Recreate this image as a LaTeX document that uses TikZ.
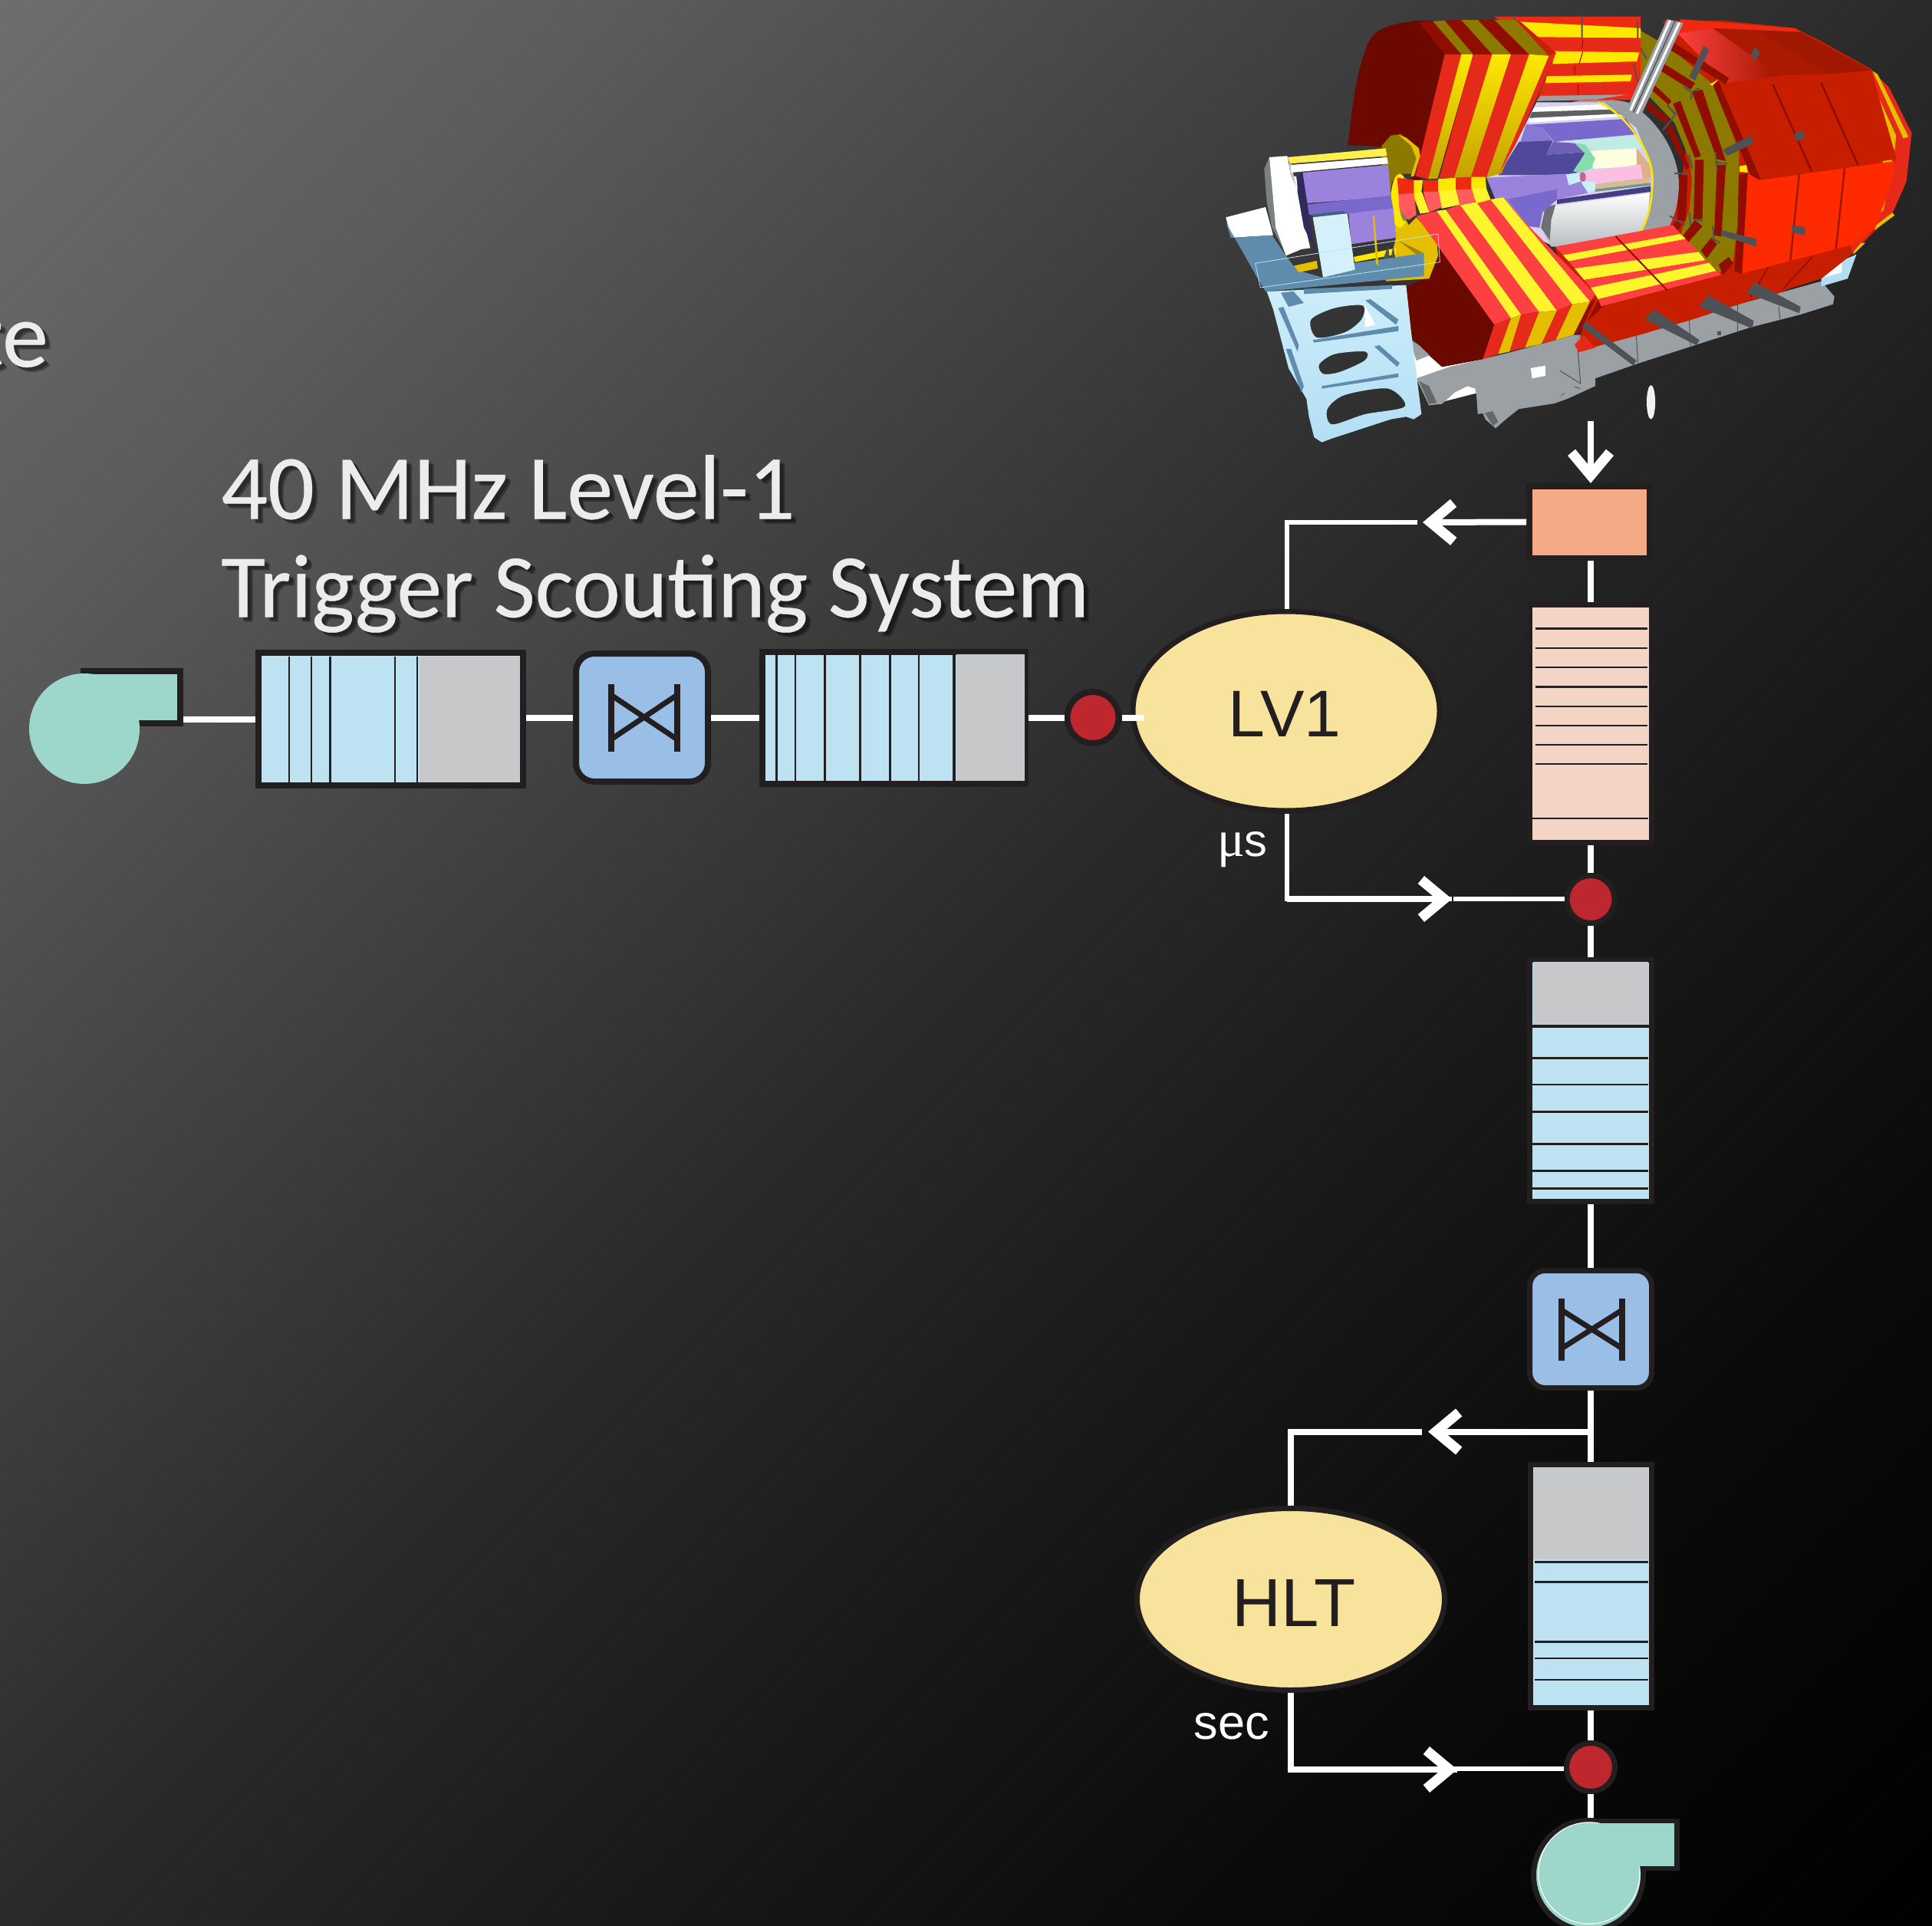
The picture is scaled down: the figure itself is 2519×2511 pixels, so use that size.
\documentclass[tikz,border=0pt]{standalone}
\usepackage{fontspec}
\setmainfont{Liberation Sans}
\newfontfamily\titlefont[FakeBold=0.35]{Carlito}
\newfontfamily\muserif{Liberation Serif}
\usetikzlibrary{shapes.geometric,arrows.meta,fadings}
\def\px{0.02cm}
\definecolor{edge}{HTML}{231F20}
\definecolor{qblue}{HTML}{BDE3F3}
\definecolor{qgray}{HTML}{C7C8CA}
\definecolor{swblue}{HTML}{9ABFE6}
\definecolor{dotred}{HTML}{BE272D}
\definecolor{procy}{HTML}{F7E39B}
\definecolor{teal0}{HTML}{9DD7CB}
\definecolor{orange0}{HTML}{F5AA87}
\definecolor{pink0}{HTML}{F4D4C5}
\definecolor{titlec}{HTML}{ECECEC}
% detector palette
\definecolor{dkred}{HTML}{6B0800}
\definecolor{midred}{HTML}{C81E00}
\definecolor{sidered}{HTML}{8F0E00}
\definecolor{frred}{HTML}{E52A1A}
\definecolor{brred}{HTML}{FF2A00}
\definecolor{ltred}{HTML}{FF4040}
\definecolor{frgold}{HTML}{E6BE00}
\definecolor{dkgold}{HTML}{8C7A00}
\definecolor{ltyel}{HTML}{FFF52E}
\definecolor{rowyel}{HTML}{FFE800}
\definecolor{rowred}{HTML}{F02A10}
\definecolor{steel}{HTML}{9AA0A4}
\definecolor{fin}{HTML}{4E5256}
\definecolor{towblue}{HTML}{B8E6F8}
\definecolor{platblue}{HTML}{5F8BAD}
\definecolor{purp}{HTML}{9B82DC}
\definecolor{purpm}{HTML}{7A69CC}
\definecolor{purpd}{HTML}{50489A}
\pgfdeclareverticalshading{bgshade}{100bp}{rgb(0bp)=(0,0,0); rgb(25bp)=(0,0,0); rgb(35bp)=(.045,.045,.045); rgb(42.5bp)=(.1,.1,.1); rgb(50bp)=(.165,.165,.165); rgb(57.5bp)=(.25,.25,.25); rgb(67bp)=(.36,.36,.36); rgb(75bp)=(.43,.43,.43); rgb(100bp)=(.43,.43,.43)}
\newcommand\dpoly[2]{\fill[#1] plot coordinates {#2} -- cycle;}
\tikzset{
  lw/.style={line width=#1*\px},
  wire/.style={draw=white,lw=8},
  barb/.style={-{Straight Barb[length=.6cm,width=1cm,line width=.26cm]}},
  queue/.style={rectangle,draw=edge,inner sep=0pt,lw=8,fill=qblue},
  swbox/.style={rectangle,rounded corners=24*\px,draw=edge,inner sep=0pt,lw=8,fill=swblue},
  reddot/.style={circle,draw=edge,fill=dotred,inner sep=0pt,lw=8},
  proc/.style={ellipse,draw=edge,fill=procy,inner sep=0pt,lw=7},
  proctext/.style={text=edge,inner sep=0pt,font=\fontsize{49}{49}\selectfont},
  bar/.style={draw=edge,lw=2.5},
  tie/.style={draw=edge,lw=8},
  lab/.style={text=white,inner sep=0pt},
  ttla/.style={inner sep=0pt,anchor=base west,font=\titlefont\fontsize{68.3}{70}\selectfont},
  ttlb/.style={inner sep=0pt,anchor=base west,font=\titlefont\fontsize{67}{70}\selectfont},
  zA/.style={shift={(1580,150)},xscale=1/3,yscale=1/3},
  zB/.style={shift={(1900,20)},xscale=1/2.613,yscale=1/3},
  zC/.style={shift={(1550,0)},xscale=1/1.618,yscale=1/2.613},
}
\begin{tikzfadingfrompicture}[name=titlefade,x=0.02cm,y=-0.02cm]
\path (0,0) rectangle (1500,900);
\node[ttla,text=transparent!0] at (288,676.5) {40 MHz Level-1};
\node[ttlb,text=transparent!0] at (288,804.5) {Trigger Scouting System};
\node[ttla,text=transparent!0,anchor=base east] at (63,478) {te};
\end{tikzfadingfrompicture}
\begin{document}
\begin{tikzpicture}[x=0.02cm,y=-0.02cm]
\useasboundingbox (0,0) rectangle (2519,2511);
\clip (0,0) rectangle (2519,2511);
\node[inner sep=0pt,rotate=45,scale=40.3] (bg) at (1259.5,1255.5) {\pgfuseshading{bgshade}};

% ---- detector: base
\begin{scope}[zA]
\dpoly{white}{(780,880) (900,985) (1060,955) (1300,900) (1300,1020) (850,1135) (800,1030)}
\dpoly{steel}{(780,880) (865,935) (800,960) (790,930)}
\dpoly{steel}{(800,1030) (930,985) (1060,955) (1440,860) (1500,930) (1500,1060) (1390,1110) (1340,1128) (1200,1150) (1150,1190) (1110,1225) (1070,1190) (1040,1120) (1030,1070) (1000,1060) (950,1085) (900,1130) (850,1135)}
\dpoly{white}{(1240,985) (1290,980) (1285,1020) (1245,1030)}
\dpoly{white}{(1040,1085) (1085,1070) (1085,1090) (1045,1100)}
\dpoly{fin}{(1150,940) (1185,925) (1185,1060) (1150,1075)}
\dpoly{fin}{(1195,925) (1230,915) (1230,1030) (1195,1045)}
\draw[fin,lw=1] (1360,1000) -- (1440,1050) (1360,1000)--(1360,1040)--(1440,1070);
\dpoly{steel!65!black}{(810,1040) (850,1060) (880,1125) (850,1130)}
\dpoly{steel!65!black}{(1090,1000) (1130,1030) (1130,1050) (1100,1040)}
\dpoly{steel!65!black}{(1050,1140) (1090,1140) (1120,1200) (1100,1215)}
\dpoly{steel!65!black}{(1330,1060) (1360,1050) (1380,1090) (1340,1115)}
\end{scope}
\begin{scope}[zB]
\dpoly{steel}{(400,1250) (620,1250) (960,1130) (1240,1040) (1285,1100) (1280,1130) (1170,1170) (1000,1220) (620,1360) (420,1440) (370,1470) (330,1510) (200,1530) (70,1560) (60,1400) (130,1335)}
\draw[fin,lw=1] (350,1390) -- (420,1440) (410,1300) -- (420,1440) (610,1250) -- (615,1360) (790,1190) -- (795,1300) (955,1130) -- (955,1240) (1095,1140) -- (1100,1190);
\dpoly{white}{(250,1380) (300,1370) (300,1410) (255,1420)}
\dpoly{fin}{(885,1235) (900,1235) (900,1250) (885,1250)}
% blue piece behind the body
\dpoly{towblue!80!swblue}{(1240,1030) (1290,970) (1360,935) (1330,1030) (1240,1060)}
\dpoly{white}{(1270,985) (1310,960) (1310,1005) (1250,1025)}
\end{scope}

% ---- back of upper end-cap
\begin{scope}[zC]
\fill[dkred] (480,70) .. controls (420,85) and (390,95) .. (375,160) .. controls (345,290) and (345,400) .. (335,495) -- (415,500) -- (480,620) -- (640,400) -- (570,70) -- cycle;
\end{scope}

% ---- right body
\begin{scope}[zB]
\dpoly{midred}{(700,20) (900,20) (1150,50) (1230,95) (1410,210) (1490,330) (1548,460) (1530,650) (1480,780) (1400,870) (1350,930) (1240,1030) (960,1130) (800,1190) (620,1250) (410,1315) (430,1200) (330,900) (760,700) (800,300)}
\dpoly{frred}{(1410,215) (1470,280) (1548,460) (1530,650) (1480,780) (1425,830) (1345,930) (1340,900) (1425,830) (1495,560)}
\dpoly{frgold}{(1375,255) (1405,245) (1495,470) (1490,530)}
\dpoly{frgold}{(1415,218) (1432,230) (1537,475) (1520,482)}
\dpoly{frgold}{(1450,570) (1482,565) (1452,762) (1425,790)}
\dpoly{frgold}{(1482,772) (1490,782) (1422,840) (1422,825)}
\dpoly{frgold}{(1350,925) (1375,890) (1390,890) (1350,935)}
\shade[left color=ltred,right color=midred!80!black] plot coordinates {(750,70) (870,50) (1100,235) (920,270)} -- cycle;
\dpoly{midred!85!black}{(870,50) (1020,55) (1260,230) (1100,235)}
\dpoly{midred!80!black}{(1020,55) (1160,60) (1410,215) (1260,230)}
\dpoly{rowred}{(760,15) (1150,50) (1170,65) (870,50) (750,70)}
\dpoly{midred}{(885,270) (1100,238) (1260,232) (1410,215) (1495,555) (1030,645)}
\dpoly{sidered}{(868,270) (890,258) (1033,640) (1010,652)}
\draw[sidered,lw=2.5] (1075,270) -- (1208,612) (1240,265) -- (1365,585);
\dpoly{brred}{(985,615) (1030,645) (1490,570) (1480,650) (1425,830) (1340,900) (970,1010)}
\draw[midred!80!black,lw=2.5] (1165,622) -- (1135,958) (1320,595) -- (1290,915);
\dpoly{sidered}{(960,625) (990,615) (970,1010) (945,1000)}
\dpoly{midred}{(970,1010) (1340,900) (1240,1010) (1100,1085) (860,1150) (900,1020)}
\draw[sidered,lw=1.5] (1060,985) -- (1000,1100) (1210,945) -- (1110,1070);
\dpoly{fin}{(1140,820) (1185,830) (1185,860) (1140,850)}
\dpoly{fin}{(1148,462) (1180,450) (1183,480) (1155,493)}
\dpoly{fin}{(1000,155) (1015,122) (1032,150) (1015,172)}
% muon rings
\dpoly{dkgold}{(625,60) (730,130) (870,270) (960,530) (955,820) (940,960) (890,1010) (760,860) (790,760) (800,650) (790,560) (740,420) (640,300) (600,240)}
\dpoly{sidered}{(735,105) (925,245) (915,270) (725,135)}
\dpoly{sidered}{(705,190) (810,265) (795,290) (690,215)}
\dpoly{sidered}{(800,300) (835,290) (915,570) (885,562)}
\dpoly{sidered}{(670,270) (730,335) (720,350) (660,290)}
\dpoly{sidered}{(735,345) (760,335) (830,550) (810,558)}
\dpoly{sidered}{(640,330) (720,400) (710,425) (635,355)}
\dpoly{sidered}{(710,440) (730,425) (790,590) (780,605)}
\dpoly{sidered}{(885,585) (915,585) (900,865) (875,860)}
\dpoly{sidered}{(810,565) (840,565) (835,797) (805,797)}
\dpoly{sidered}{(752,625) (785,625) (778,805) (750,800)}
\dpoly{sidered}{(770,860) (810,800) (835,825) (785,890)}
\dpoly{sidered}{(830,920) (865,870) (885,895) (850,950)}
\dpoly{sidered}{(890,975) (925,945) (940,970) (905,1015)}
\dpoly{sidered}{(725,830) (750,800) (765,820) (745,850)}
\dpoly{rowyel}{(860,270) (890,250) (870,275)}
\dpoly{rowyel}{(962,590) (985,585) (990,615) (962,612)}
\end{scope}

% ---- gray ring and the inside of the barrel
\begin{scope}[zB]
\fill[steel] (380,345) .. controls (420,325) and (500,320) .. (580,340) .. controls (680,400) and (755,540) .. (755,660) .. controls (755,730) and (740,790) .. (720,830) -- (320,905) -- cycle;
\dpoly{purpm!30!white}{(270,340) (500,340) (610,440) (665,600) (650,780) (630,845) (330,905) (200,830) (100,630) (140,620) (200,500)}
\dpoly{white}{(262,360) (500,348) (525,368) (255,378)}
\dpoly{steel!60!black}{(255,378) (525,368) (560,388) (245,402)}
\dpoly{white}{(245,402) (550,385) (565,395) (245,420)}
\dpoly{purpm}{(240,428) (575,405) (612,465) (330,495) (290,440)}
\dpoly{purpm!90!white}{(215,495) (235,425) (290,440) (325,492)}
\dpoly{purpd}{(140,625) (210,495) (325,490) (305,545) (435,535) (410,620) (370,625)}
\dpoly{purpm!90!black}{(305,545) (325,495) (400,500) (435,535)}
\dpoly{green!30!cyan!12!white!85!teal}{(350,492) (612,470) (640,520) (470,530) (435,505)}
\dpoly{yellow!12!white}{(455,530) (612,520) (612,590) (465,600)}
\dpoly{brown!60!white}{(610,520) (660,590) (660,640) (470,660) (630,640) (612,590)}
\dpoly{teal0!85!green}{(400,500) (435,505) (470,560) (455,600) (415,615) (395,610) (435,540)}
\dpoly{magenta!25!white}{(425,615) (625,583) (632,640) (435,655)}
\fill[magenta!50!gray] (427,633) ellipse (11 and 20);
\dpoly{cyan!20!white}{(370,622) (415,615) (420,650) (380,665)}
\dpoly{cyan!20!white}{(420,650) (470,650) (475,680) (445,695)}
\dpoly{brown!55!white}{(470,660) (655,635) (658,655) (470,680)}
\dpoly{teal0!70!black}{(470,680) (658,655) (658,665) (470,690)}
\dpoly{purpd!85!black}{(340,720) (658,668) (658,690) (340,738)}
\shade[top color=white,bottom color=steel!70!white] plot coordinates {(300,750) (655,695) (650,780) (630,845) (320,905) (285,835)} -- cycle;
\dpoly{steel!70!black}{(300,750) (335,740) (320,800) (315,880) (285,830)}
\dpoly{purp}{(100,635) (370,620) (380,665) (420,650) (445,695) (340,720) (290,770) (280,830) (245,825) (130,720)}
\dpoly{purpm}{(170,720) (340,680) (340,720) (290,770) (280,830) (245,825)}
\draw[yellow!90!orange,lw=2.5] (480,340) .. controls (570,380) and (665,530) .. (665,640) .. controls (665,730) and (650,800) .. (625,845);
% top barrel rows
\dpoly{rowred}{(125,5) (625,5) (625,330) (270,335) (335,150)}
\dpoly{rowyel}{(215,25) (625,50) (625,88) (275,85)}
\dpoly{frred}{(285,95) (625,100) (622,135) (325,130)}
\dpoly{rowyel}{(330,140) (620,145) (612,180) (325,190)}
\dpoly{frred}{(320,195) (595,190) (590,230) (305,235)}
\dpoly{rowyel}{(305,238) (595,232) (590,258) (300,265)}
\dpoly{frred}{(295,272) (610,265) (605,305) (285,315)}
\dpoly{steel}{(285,315) (580,310) (470,330) (270,335)}
\draw[sidered,lw=1] (428,95) -- (425,130) (428,140) -- (415,190) (400,195) -- (400,235) (412,270) -- (412,310);
\draw[fin,lw=2] (425,0) -- (425,90) (195,0) -- (195,25) (615,20) -- (615,90) (625,130) -- (645,170) (600,190) -- (615,260);
\end{scope}

% ---- upper end-cap
\begin{scope}[zC]
\dpoly{sidered}{(485,75) (515,72) (575,185) (540,185)}
\dpoly{dkgold}{(515,72) (540,70) (600,185) (575,185)}
\dpoly{sidered}{(540,70) (575,68) (640,185) (600,185)}
\dpoly{dkgold}{(575,68) (610,68) (680,185) (640,185)}
\dpoly{sidered}{(610,68) (645,68) (718,185) (680,185)}
\dpoly{dkgold}{(645,68) (690,68) (760,190) (718,185)}
\dpoly{rowred!60!sidered}{(690,68) (700,75) (775,180) (760,190)}
\dpoly{frred}{(540,185) (575,185) (505,610) (478,600)}
\shade[top color=rowyel,bottom color=frgold!85!black] plot coordinates {(575,185) (600,185) (525,608) (505,610)} -- cycle;
\dpoly{frred}{(600,185) (640,185) (560,605) (528,608)}
\shade[top color=rowyel,bottom color=frgold!85!black] plot coordinates {(640,185) (680,185) (595,605) (560,605)} -- cycle;
\dpoly{frred}{(680,185) (718,185) (628,605) (595,605)}
\shade[top color=rowyel,bottom color=frgold!85!black] plot coordinates {(718,185) (760,190) (660,590) (628,605)} -- cycle;
\dpoly{frred}{(760,190) (775,180) (735,330) (690,490) (655,590)}
\end{scope}

% ---- lower barrel and its blocks
\begin{scope}[zB]
\dpoly{midred}{(500,1135) (715,1075) (620,1245) (470,1280) (440,1195)}
\dpoly{midred}{(715,1075) (900,1020) (860,1100) (790,1190) (620,1245)}
\dpoly{sidered}{(480,1115) (500,1135) (440,1200) (400,1290)}
\dpoly{frred}{(400,1290) (430,1250) (470,1300) (415,1318)}
\dpoly{ltred}{(335,905) (735,820) (760,855) (360,938)}
\dpoly{ltyel}{(360,938) (760,855) (778,875) (380,962)}
\dpoly{ltred}{(380,962) (778,875) (822,925) (400,990)}
\dpoly{ltyel}{(400,990) (822,925) (845,958) (432,1035)}
\dpoly{ltred}{(432,1035) (845,958) (858,968) (455,1065)}
\dpoly{ltyel}{(455,1065) (858,968) (882,1000) (480,1110)}
\dpoly{ltred}{(480,1110) (882,1000) (900,1015) (490,1138)}
\draw[sidered,lw=2] (540,865) -- (715,1075);
\dpoly{fin}{(415,1210) (440,1200) (610,1350) (600,1370)}
\dpoly{fin}{(640,1190) (670,1150) (825,1270) (815,1290)}
\dpoly{fin}{(825,1140) (855,1095) (1010,1195) (1005,1225)}
\dpoly{fin}{(985,1085) (1015,1045) (1170,1140) (1165,1165)}
\dpoly{fin}{(790,240) (840,120) (858,135) (810,255)}
\dpoly{fin}{(905,525) (1000,470) (1010,500) (920,550)}
\dpoly{fin}{(900,840) (1020,875) (1018,905) (898,860)}
\draw[fin,lw=2] (770,280) -- (800,300) -- (825,285) (800,300) -- (795,330)
  (730,370) -- (745,385) (745,385) -- (700,450) (715,350) -- (740,385)
  (880,535) -- (885,605) (790,545) -- (800,600) (920,580) -- (885,575)
  (740,618) -- (790,620) (725,785) -- (775,820) (790,770) -- (795,825) (800,795) -- (835,805)
  (870,825) -- (875,870) (865,870) -- (895,890);
\end{scope}

% ---- lower end-cap, gold plate, tower (zoom A frame)
\begin{scope}[zA]
\dpoly{dkred}{(740,680) (830,640) (880,490) (1105,820) (1060,955) (900,985) (780,870) (765,750)}
\dpoly{dkgold}{(665,120) (700,80) (740,75) (810,130) (795,230) (740,230) (705,260) (695,320) (665,230)}
\dpoly{frgold}{(730,78) (760,88) (810,130) (815,160) (790,240) (778,240) (800,170) (780,120)}
\dpoly{frgold}{(700,300) (770,430) (800,400) (880,490) (885,550) (850,640) (680,650) (720,480)}
\dpoly{dkgold!80!frgold}{(730,490) (830,540) (800,545)}
\fill[rowyel] (735,335) ellipse (35 and 105);
\fill[purp!40!dkgold] (755,330) ellipse (22 and 85);
\dpoly{ltred}{(800,395) (880,375) (1170,795) (1105,820)}
\dpoly{ltyel}{(880,375) (915,370) (1210,780) (1170,795)}
\dpoly{ltred}{(915,370) (970,350) (1280,770) (1210,780)}
\dpoly{ltyel}{(970,350) (1035,340) (1350,765) (1280,770)}
\dpoly{ltred}{(1035,340) (1090,330) (1410,740) (1350,765)}
\dpoly{ltyel}{(1090,330) (1140,322) (1480,730) (1410,740)}
\dpoly{ltred}{(1140,322) (1240,435) (1500,700) (1480,730)}
\dpoly{frred}{(1105,820) (1170,795) (1120,935) (1060,955)}
\dpoly{frgold}{(1170,795) (1210,780) (1165,925) (1120,935)}
\dpoly{frred}{(1210,780) (1280,770) (1225,910) (1165,925)}
\dpoly{frgold}{(1280,770) (1350,765) (1290,895) (1225,910)}
\dpoly{frred}{(1350,765) (1410,740) (1345,880) (1290,895)}
\dpoly{frgold}{(1410,740) (1480,730) (1415,860) (1345,880)}
\dpoly{sidered}{(1480,730) (1500,720) (1440,850) (1415,860)}
% forward sleeve
\dpoly{rowred}{(725,245) (790,255) (800,390) (770,410) (735,370)}
\dpoly{rowyel}{(790,255) (825,255) (820,300) (850,380) (815,385) (790,320)}
\dpoly{rowred}{(825,255) (885,255) (890,310) (900,360) (850,380) (830,320)}
\dpoly{rowyel}{(885,250) (955,245) (955,300) (970,350) (900,365) (885,300)}
\dpoly{rowred}{(955,245) (1015,242) (1020,300) (1030,340) (970,352) (955,300)}
\dpoly{rowyel}{(1015,242) (1070,242) (1075,300) (1090,330) (1035,345) (1015,300)}
\dpoly{ltred!85!white}{(730,310) (790,305) (800,390) (770,410) (735,370)}
\dpoly{ltyel}{(795,305) (822,302) (850,380) (815,385)}
\dpoly{ltred!85!white}{(828,300) (888,300) (900,360) (850,380)}
\dpoly{ltyel}{(888,296) (955,292) (970,350) (900,365)}
\dpoly{ltred!85!white}{(957,292) (1018,290) (1030,340) (970,352)}
\dpoly{ltyel}{(1018,288) (1073,286) (1090,330) (1035,345)}
% end structure
\dpoly{white}{(55,400) (210,360) (240,470) (75,480)}
\dpoly{platblue}{(55,420) (75,480) (235,470) (290,550) (330,605) (430,635) (830,590) (830,630) (210,690) (180,640)}
\dpoly{steel!80!black}{(205,210) (225,165) (240,330) (285,535) (235,440) (215,340)}
\dpoly{white}{(225,165) (295,160) (310,240) (330,240) (345,350) (385,520) (350,525) (290,550) (250,440)}
\dpoly{steel!60!white}{(300,190) (310,190) (330,280) (310,240)}
\dpoly{rowyel!70!white}{(295,165) (680,130) (685,160) (305,190)}
\dpoly{white}{(310,195) (685,165) (690,190) (310,225)}
\dpoly{purp}{(355,225) (690,195) (700,320) (370,345)}
\dpoly{purpm}{(370,350) (700,315) (710,370) (530,385) (380,390)}
\dpoly{purp}{(535,385) (710,365) (720,480) (545,505)}
\dpoly{purpd!60!black}{(335,240) (355,225) (400,520) (360,440) (335,300)}
\dpoly{frgold}{(320,590) (410,570) (415,600) (340,615)}
\dpoly{rowyel}{(555,555) (720,520) (720,545) (560,575)}
\dpoly{platblue}{(550,580) (830,540) (830,590) (430,635)}
\dpoly{platblue!70!black}{(385,390) (510,375) (535,385) (410,405)}
\dpoly{towblue!60!white}{(395,400) (530,385) (560,605) (435,635)}
\dpoly{frgold}{(630,395) (636,395) (652,590) (642,580)}
\dpoly{fin}{(670,565) (690,510) (695,560)}
\dpoly{fin}{(700,560) (710,510) (717,558)}
\draw[towblue,lw=.8] (170,580) -- (885,465) -- (892,575) -- (190,675) -- cycle;
% tower with openings
\shade[even odd rule,top color=towblue!70!white,bottom color=towblue!80!swblue] (215,690) -- (760,665) -- (780,850) -- (820,1170) -- (790,1190) -- (760,1180) -- (700,1190) -- (470,1265) -- (430,1280) -- (400,1260) -- (380,1180) -- (370,1110) -- (300,990) -- (240,760) -- cycle
 plot[smooth cycle] coordinates {(388,800) (480,755) (590,745) (585,800) (520,850) (410,870)}
 plot[smooth cycle] coordinates {(420,975) (480,935) (600,925) (598,960) (500,1005) (435,1012)}
 plot[smooth cycle] coordinates {(452,1150) (520,1095) (690,1070) (755,1140) (600,1170) (470,1210)};
\dpoly{platblue}{(260,755) (280,750) (340,900) (335,925)}
\dpoly{platblue}{(290,915) (310,915) (360,1060) (350,1085)}
\dpoly{platblue}{(395,880) (730,825) (730,845) (400,890)}
\dpoly{platblue}{(600,725) (620,720) (730,800) (720,820)}
\dpoly{platblue}{(635,905) (655,900) (735,970) (725,985)}
\dpoly{platblue}{(430,1060) (730,1010) (730,1025) (430,1070)}
\dpoly{platblue}{(270,695) (320,690) (360,735) (300,750)}
\dpoly{platblue}{(360,680) (705,665) (705,680) (360,700)}
\dpoly{white}{(598,745) (640,820) (600,830)}
\end{scope}

% ---- pipe and stray pieces
\begin{scope}[zB]
\dpoly{steel}{(715,15) (770,30) (625,395) (578,365)}
\draw[white,lw=3] (725,20) -- (590,372) (757,28) -- (612,385);
\draw[steel!55!black,lw=1.5] (742,22) -- (600,380);
\end{scope}
\begin{scope}[zC]
\fill[white!85!steel] (975,1370) ellipse (9 and 58);
\end{scope}

% ---- title (the drop shadow is a fill masked by the letters)
\fill[black,opacity=.3,path fading=titlefade,fit fading=false,fading transform={shift={(737,454)}}] (0,0) rectangle (1600,1000);
\fill[black,opacity=.3,path fading=titlefade,fit fading=false,fading transform={shift={(739,456)}}] (0,0) rectangle (1600,1000);
\node[ttla,text=titlec] (title1) at (288,676.5) {40 MHz Level-1};
\node[ttlb,text=titlec] (title2) at (288,804.5) {Trigger Scouting System};
\node[ttla,text=titlec,anchor=base east] (te) at (63,478) {te};

% ---- left branch
\node[queue,minimum width=345*\px,minimum height=173*\px] (q1) at (509.5,937.5) {};
\fill[qgray] (546.6,856) rectangle (678,1020);
\foreach \x in {377,406,430.5,515,544}{\draw[bar] (\x,856) -- (\x,1020);}
\node[swbox,minimum width=172*\px,minimum height=167*\px] (sw1) at (837,935.5) {};
\draw[tie] (796.6,892) -- (796.6,980) (883,892) -- (883,980);
\draw[tie,lw=7] (796.6,906) -- (883,964) (796.6,964) -- (883,906);
\node[queue,minimum width=343*\px,minimum height=172*\px] (q2) at (1165.5,936) {};
\fill[qgray] (1246.5,853) rectangle (1336,1018);
\foreach \x in {1012.5,1037,1075.6,1121.6,1160.5,1198}{\draw[bar] (\x,853) -- (\x,1018);}
\draw[draw=edge,lw=4] (1244.3,853) -- (1244.3,1018);
\node[reddot,minimum size=67*\px] (d1) at (1425,935.5) {};
\node[proc,minimum width=400*\px,minimum height=260*\px] (lv1) at (1677,927) {};
\node[proctext] (lv1text) at (1675,931) {LV1};
\coordinate (d1end) at (1492,935.5);

% left pump
\node[rectangle,draw=edge,fill=teal0,inner sep=0pt,lw=8,minimum width=126*\px,minimum height=68*\px] (pumpAout) at (172,909) {};
\node[circle,fill=teal0,inner sep=0pt,minimum size=144*\px] (pumpA) at (110,950) {};

% ---- right column
\node[rectangle,draw=edge,fill=orange0,inner sep=0pt,lw=7.5,minimum width=156.5*\px,minimum height=93.5*\px] (ro) at (2072,680.5) {};
\node[queue,fill=pink0,lw=7,minimum width=159*\px,minimum height=310*\px] (pq) at (2074,943.5) {};
\foreach \y in {819.5,844.8,870,895.4,920.7,946,971.3,996.2}{\draw[edge,lw=2.2] (2002,\y) -- (2148,\y);}
\draw[edge,lw=2.2] (1998,1067) -- (2149,1067);
\node[reddot,lw=7,minimum size=62*\px] (d2) at (2074,1172.5) {};
\node[queue,lw=7,minimum width=159*\px,minimum height=315*\px] (v1) at (2074,1409) {};
\fill[qgray] (1999,1254) rectangle (2149,1336);
\draw[draw=edge,lw=4] (1998,1338) -- (2150,1338);
\foreach \y in {1379.7,1413.8,1449.3,1491.6,1526.4,1549.4}{\draw[edge,lw=2.5] (1998,\y) -- (2149,\y);}
\node[swbox,lw=7,rounded corners=20*\px,minimum width=159*\px,minimum height=153*\px] (sw2) at (2074,1733) {};
\draw[tie] (2036,1692.5) -- (2036,1773.6) (2115,1692.5) -- (2115,1773.6);
\draw[tie,lw=7] (2036,1708) -- (2115,1758) (2036,1758) -- (2115,1708);
\node[queue,lw=7,minimum width=158*\px,minimum height=316.5*\px] (v2) at (2074,2067.75) {};
\fill[qgray] (1998.6,1913.6) rectangle (2149,2032.6);
\foreach \y in {2036.4,2062.5,2140.4,2162,2189.6}{\draw[edge,lw=2.2] (2001,\y) -- (2149,\y);}
\node[proc,minimum width=401*\px,minimum height=237*\px] (hlt) at (1683,2085) {};
\node[proctext,font=\fontsize{50.5}{50}\selectfont] (hlttext) at (1687,2090) {HLT};
\node[reddot,lw=7,minimum size=63*\px] (d3) at (2074,2304) {};

% bottom pump
\node[circle,draw=edge,fill=teal0,inner sep=0pt,lw=7,minimum size=143*\px] (pumpB) at (2071,2445) {};
\node[rectangle,draw=edge,fill=teal0,inner sep=0pt,lw=7,minimum width=112*\px,minimum height=61.4*\px] (pumpBout) at (2130.5,2404.8) {};
\draw[white,lw=1.5] (2072,2442) circle (66);
\fill[teal0] (2072,2442) circle (65.5);
\fill[teal0] (2066,2377) rectangle (2183,2433);

% labels
\node[lab] (mus) at (1620,1108) {{\muserif\fontsize{38}{38}\selectfont μ}{\fontsize{34}{34}\selectfont s}};
\node[lab,font=\fontsize{36}{36}\selectfont] (sec) at (1606,2251) {sec};

% ---- connectors
\coordinate (detout) at (2074,549);
\coordinate (a1tip) at (1855,681);
\coordinate (a1back) at (1848,681);
\coordinate (c1) at (1678,681);
\coordinate (c2) at (1678,1172);
\coordinate (a2tip) at (1893,1172);
\coordinate (a2back) at (1895,1172);
\coordinate (br) at (2074,1866.5);
\coordinate (a3tip) at (1862,1866.5);
\coordinate (a3back) at (1854,1866.5);
\coordinate (c3) at (1683,1866.5);
\coordinate (c4) at (1683,2307);
\coordinate (a4tip) at (1900,2307);
\coordinate (a4back) at (1900,2306);

\draw[wire] (pumpAout.east |- q1.west) -- (q1.west);
\draw[wire] (q1.east |- sw1.west) -- (sw1.west);
\draw[wire] (sw1.east) -- (q2.west |- sw1.east);
\draw[wire] (q2.east |- d1.west) -- (d1.west);
\draw[wire] (d1.east) -- (d1end);
\draw[wire,barb] (detout) -- (detout |- ro.north);
\draw[wire,barb] (ro.west) -- (a1tip);
\draw[wire,lw=6.5] (a1back) -- (c1) -- (c1 |- lv1.north);
\draw[wire,lw=6.5] (c2 |- lv1.south) -- (c2) -- (a2tip);
\draw[wire,barb] (c2) -- (a2tip);
\draw[wire,lw=6.5] (a2back) -- (a2back -| d2.west);
\draw[wire] (pq.north |- ro.south) -- (pq.north);
\draw[wire] (pq.south) -- (d2.north);
\draw[wire] (d2.south) -- (v1.north);
\draw[wire] (v1.south) -- (sw2.north);
\draw[wire] (sw2.south) -- (v2.north);
\draw[wire,barb] (br) -- (a3tip);
\draw[wire] (a3back) -- (c3) -- (hlt.north);
\draw[wire] (hlt.south) -- (c4) -- (a4tip);
\draw[wire,barb] (c4) -- (a4tip);
\draw[wire,lw=6.5] (a4back) -- (a4back -| d3.west);
\draw[wire] (v2.south) -- (d3.north);
\draw[wire] (d3.south) -- (d3.south |- pumpB.north);
\end{tikzpicture}
\end{document}
